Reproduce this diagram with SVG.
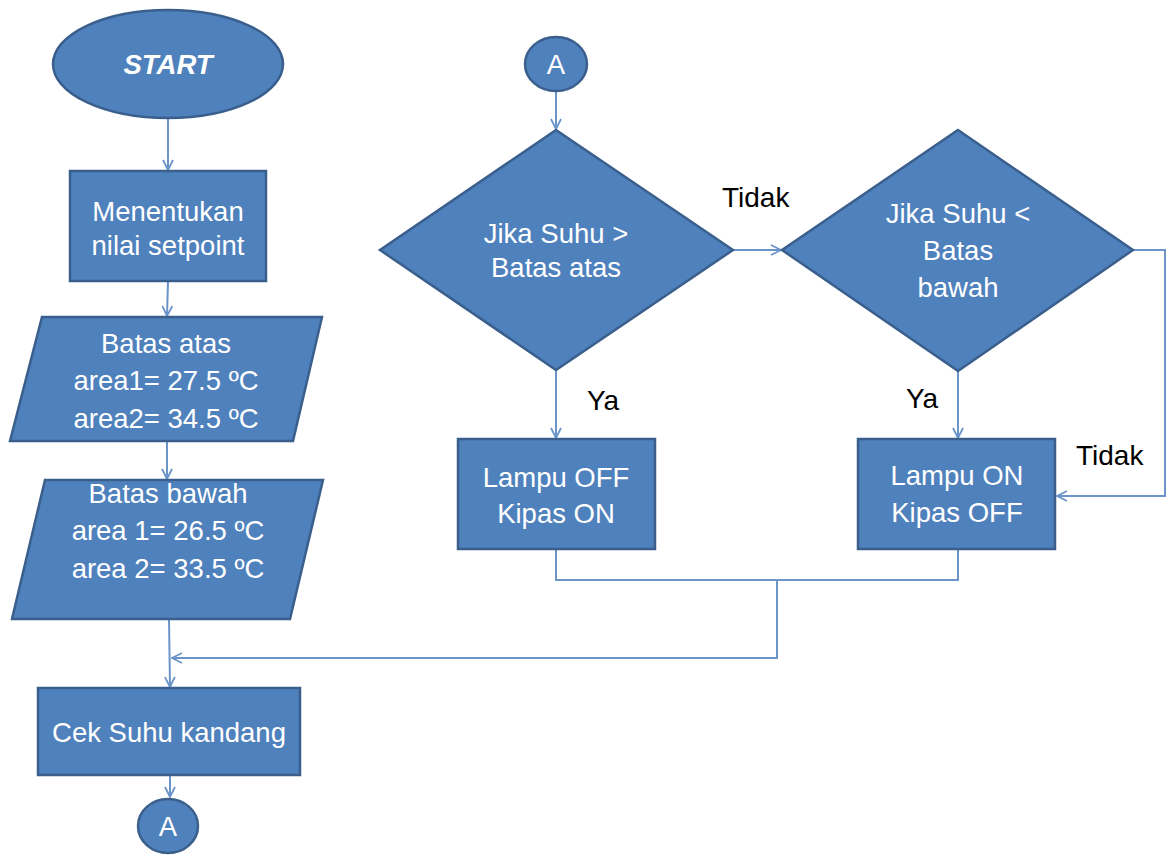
<svg xmlns="http://www.w3.org/2000/svg" width="1166" height="857" viewBox="0 0 1166 857">
<defs>
<style>
.shape{fill:#4f81bd;stroke:#3a5f8c;stroke-width:2.5}
.t{font-family:"Liberation Sans",Arial,sans-serif;font-size:27.5px;fill:#ffffff;text-anchor:middle}
.lbl{font-family:"Liberation Sans",Arial,sans-serif;font-size:28px;fill:#000000}
.c{fill:none;stroke:#6b94cb;stroke-width:2}
</style>
<marker id="ah" viewBox="0 0 12 12" refX="11" refY="6" markerWidth="12" markerHeight="12" markerUnits="userSpaceOnUse" orient="auto">
<path d="M1,1 L11,6 L1,11" fill="none" stroke="#6b94cb" stroke-width="1.8"/>
</marker>
</defs>
<rect width="1166" height="857" fill="#ffffff"/>

<g id="connectors">
<path class="c" d="M168,118 L168,170" marker-end="url(#ah)"/>
<path class="c" d="M168,281 L167,316" marker-end="url(#ah)"/>
<path class="c" d="M167,442 L167,479" marker-end="url(#ah)"/>
<path class="c" d="M169,619 L170,687" marker-end="url(#ah)"/>
<path class="c" d="M170,775 L170,797" marker-end="url(#ah)"/>
<path class="c" d="M556,91 L556,129" marker-end="url(#ah)"/>
<path class="c" d="M733,250 L781,250" marker-end="url(#ah)"/>
<path class="c" d="M556,370 L556,438" marker-end="url(#ah)"/>
<path class="c" d="M958,371 L958,438" marker-end="url(#ah)"/>
<path class="c" d="M1133,250 L1165,250 L1165,496 L1057,496" marker-end="url(#ah)"/>
<path class="c" d="M556,549 L556,580 L958,580 L958,549"/>
<path class="c" d="M777,580 L777,658 L172,658" marker-end="url(#ah)"/>
</g>

<g id="start">
<ellipse class="shape" cx="168" cy="64" rx="115" ry="54"/>
<text class="t" x="168" y="74" font-weight="bold" font-style="italic">START</text>
</g>

<g id="setpoint">
<rect class="shape" x="70" y="171" width="196" height="110"/>
<text class="t" x="168" y="221">Menentukan</text>
<text class="t" x="168" y="255">nilai setpoint</text>
</g>

<g id="batas-atas">
<polygon class="shape" points="42,317 322,317 293,441 10,441"/>
<text class="t" x="166" y="353">Batas atas</text>
<text class="t" x="166" y="390">area1= 27.5 ºC</text>
<text class="t" x="166" y="428">area2= 34.5 ºC</text>
</g>

<g id="batas-bawah">
<polygon class="shape" points="45,480 323,480 290,619 12,619"/>
<text class="t" x="168" y="503">Batas bawah</text>
<text class="t" x="168" y="540">area 1= 26.5 ºC</text>
<text class="t" x="168" y="578">area 2= 33.5 ºC</text>
</g>

<g id="cek-suhu">
<rect class="shape" x="38" y="688" width="262" height="87"/>
<text class="t" x="169" y="742">Cek Suhu kandang</text>
</g>

<g id="a-bottom">
<ellipse class="shape" cx="168" cy="826" rx="30" ry="27"/>
<text class="t" x="168" y="836">A</text>
</g>

<g id="a-top">
<ellipse class="shape" cx="556" cy="64" rx="31" ry="27"/>
<text class="t" x="556" y="74">A</text>
</g>

<g id="decision-atas">
<polygon class="shape" points="556,130 733,250 556,370 380,250"/>
<text class="t" x="556" y="243">Jika Suhu &gt;</text>
<text class="t" x="556" y="277">Batas atas</text>
</g>

<g id="decision-bawah">
<polygon class="shape" points="958,130 1133,250 958,371 782,250"/>
<text class="t" x="958" y="223">Jika Suhu &lt;</text>
<text class="t" x="958" y="260">Batas</text>
<text class="t" x="958" y="297">bawah</text>
</g>

<g id="lampu-off">
<rect class="shape" x="458" y="439" width="197" height="110"/>
<text class="t" x="556" y="487">Lampu OFF</text>
<text class="t" x="556" y="523">Kipas ON</text>
</g>

<g id="lampu-on">
<rect class="shape" x="858" y="439" width="197" height="110"/>
<text class="t" x="957" y="485">Lampu ON</text>
<text class="t" x="957" y="522">Kipas OFF</text>
</g>

<g id="labels">
<text class="lbl" x="722" y="207">Tidak</text>
<text class="lbl" x="587" y="410">Ya</text>
<text class="lbl" x="906" y="408">Ya</text>
<text class="lbl" x="1076" y="465">Tidak</text>
</g>
</svg>
